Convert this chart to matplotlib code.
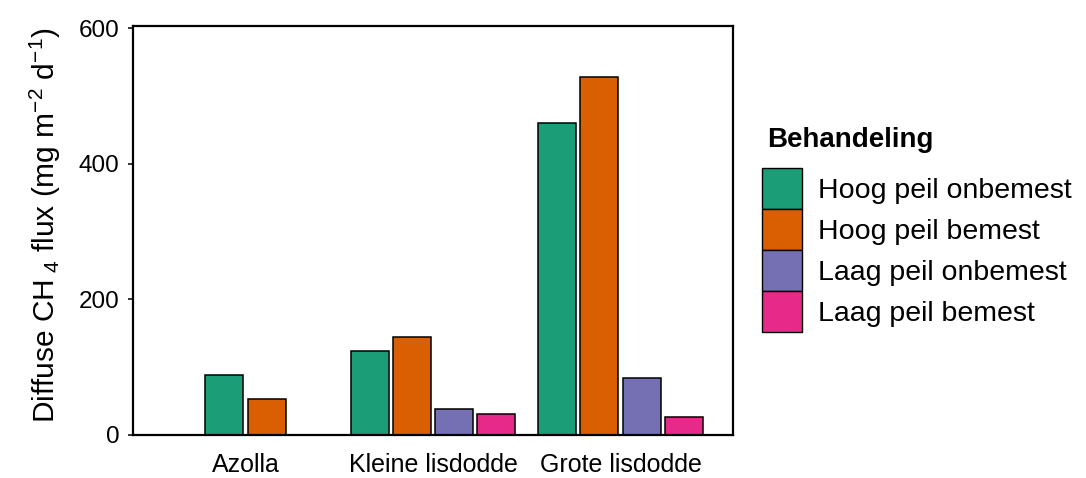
import matplotlib
matplotlib.use("Agg")
import matplotlib.pyplot as plt
from matplotlib.patches import Patch
import numpy as np

plt.rcParams['font.family'] = ['Liberation Sans', 'DejaVu Sans']
plt.rcParams['mathtext.fontset'] = 'custom'
plt.rcParams['mathtext.rm'] = 'Liberation Sans'
plt.rcParams['mathtext.it'] = 'Liberation Sans:italic'
plt.rcParams['mathtext.bf'] = 'Liberation Sans:bold'

# Data
species = ["Azolla", "Kleine lisdodde", "Grote lisdodde"]
treatments = ["Hoog peil onbemest", "Hoog peil bemest",
              "Laag peil onbemest", "Laag peil bemest"]
colors = ["#1B9E77", "#D95F02", "#7570B3", "#E7298A"]
# flux per species, one list per treatment (None = not measured)
hoog_onbemest = [88, 124, 460]
hoog_bemest = [52, 144, 528]
laag_onbemest = [None, 38, 83]
laag_bemest = [None, 31, 26]
series = [hoog_onbemest, hoog_bemest, laag_onbemest, laag_bemest]

W, H = 1086, 478
fig = plt.figure(figsize=(W / 100, H / 100), dpi=100)
ax = fig.add_axes([133 / W, 1 - 434.5 / H, 600 / W, 409 / H])

slot = 0.225
bar_w = 0.2025
x = np.arange(1, len(species) + 1)
for i, sp in enumerate(species):
    present = [j for j in range(len(treatments)) if series[j][i] is not None]
    n = len(present)
    for k, j in enumerate(present):
        xpos = x[i] + (k - (n - 1) / 2) * slot
        ax.bar(xpos, series[j][i], width=bar_w, color=colors[j],
               edgecolor="black", linewidth=1.1, zorder=2)

ax.set_xlim(0.4, 3.6)
ax.set_ylim(0, 604)
ax.set_yticks([0, 200, 400, 600])
ax.set_xticks(x)
ax.set_xticklabels(species)
ax.tick_params(axis="x", length=0, pad=13, labelsize=18, colors="black")
ax.tick_params(axis="y", length=3.6, width=1.1, pad=6.3, labelsize=17.5, colors="black")
for s in ax.spines.values():
    s.set_linewidth(1.6)
    s.set_color("black")

ax.set_ylabel(r"Diffuse CH$_{\ 4}$ flux (mg m$^{-2}$ d$^{-1}$)", fontsize=21.5)
ax.yaxis.set_label_coords(-0.117, 0.512)

# legend: keys and labels, title placed above them
fs = 20.5
key_h = 29.5  # key height in points
handles = [Patch(facecolor=c, edgecolor="black", linewidth=1.0) for c in colors]
leg = ax.legend(handles, treatments, fontsize=fs,
                loc="upper left", bbox_to_anchor=(762 / W, 1 - 168 / H),
                bbox_transform=fig.transFigure, frameon=False,
                handlelength=28.8 / fs, handleheight=(key_h / fs - 0.245) / 0.65,
                labelspacing=0.0, handletextpad=11.5 / fs,
                borderpad=0, borderaxespad=0)
fig.text(767 / W, 1 - 147 / H, "Behandeling", fontsize=20, fontweight="bold",
         ha="left", va="baseline")

fig.savefig("out.png", dpi=100, facecolor="white")
